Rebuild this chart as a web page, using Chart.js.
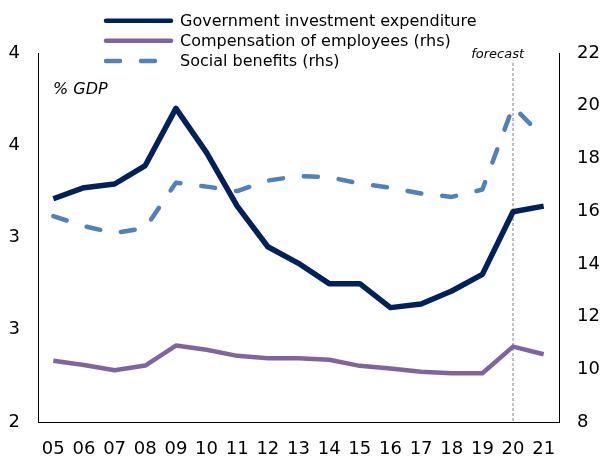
<!DOCTYPE html>
<html>
<head>
<meta charset="utf-8">
<script src="https://cdn.jsdelivr.net/npm/chart.js"></script>
<style>
  html, body { margin: 0; padding: 0; background: #fff; }
  #wrap { width: 600px; height: 457px; position: relative; }
</style>
</head>
<body>
<div id="wrap"><canvas id="myChart"></canvas></div>
<script>
// years on the x axis
const years = ['05', '06', '07', '08', '09', '10', '11', '12', '13', '14', '15', '16', '17', '18', '19', '20', '21'];
// % GDP, left axis
const govInvestment = [3.21, 3.27, 3.29, 3.39, 3.70, 3.46, 3.17, 2.95, 2.86, 2.75, 2.75, 2.62, 2.64, 2.71, 2.80, 3.14, 3.17];
// % GDP, right axis
const compensation = [10.32, 10.16, 9.96, 10.14, 10.90, 10.74, 10.51, 10.42, 10.42, 10.36, 10.13, 10.03, 9.91, 9.85, 9.85, 10.86, 10.57];
const socialBenefits = [15.81, 15.43, 15.17, 15.36, 17.08, 16.93, 16.76, 17.16, 17.33, 17.29, 17.05, 16.89, 16.67, 16.54, 16.82, 19.97, 18.79];
const forecastYear = '20';

const FONT = 'DejaVu Sans, Verdana, sans-serif';

// legend drawn as a stacked list above the plot
const stackedLegend = {
    id: 'stackedLegend',
    afterDraw(chart) {
        const ctx = chart.ctx;
        const rows = [20.7, 40.7, 61];
        ctx.save();
        chart.data.datasets.forEach((ds, i) => {
            const y = rows[i];
            ctx.beginPath();
            ctx.strokeStyle = ds.borderColor;
            ctx.lineWidth = 4.5;
            ctx.lineCap = 'round';
            ctx.setLineDash(ds.borderDash || []);
            ctx.moveTo(106, y);
            ctx.lineTo(171, y);
            ctx.stroke();
            ctx.setLineDash([]);
            ctx.fillStyle = '#000';
            ctx.font = '16px ' + FONT;
            ctx.textAlign = 'left';
            ctx.textBaseline = 'middle';
            ctx.fillText(ds.label, 180, y + 1);
        });
        ctx.restore();
    }
};

// forecast marker and unit note
const notes = {
    id: 'notes',
    beforeDatasetsDraw(chart) {
        const ctx = chart.ctx;
        const x = chart.scales.x.getPixelForValue(years.indexOf(forecastYear));
        const area = chart.chartArea;
        ctx.save();
        ctx.beginPath();
        ctx.strokeStyle = '#808080';
        ctx.lineWidth = 1;
        ctx.setLineDash([3, 2]);
        ctx.moveTo(x, 63);
        ctx.lineTo(x, area.bottom);
        ctx.stroke();
        ctx.restore();
    },
    afterDraw(chart) {
        const ctx = chart.ctx;
        const x = chart.scales.x.getPixelForValue(years.indexOf(forecastYear));
        ctx.save();
        ctx.fillStyle = '#000';
        ctx.textBaseline = 'middle';
        ctx.font = 'italic 13px ' + FONT;
        ctx.textAlign = 'right';
        ctx.fillText('forecast', x + 11, 55);
        ctx.font = 'italic 16px ' + FONT;
        ctx.textAlign = 'left';
        ctx.fillText('% GDP', 53, 90);
        ctx.restore();
    }
};

const ctx = document.getElementById('myChart').getContext('2d');
const chart = new Chart(ctx, {
    type: 'line',
    data: {
        labels: years,
        datasets: [{
            label: 'Government investment expenditure',
            data: govInvestment,
            yAxisID: 'y',
            borderColor: '#002060',
            borderWidth: 5.5,
        }, {
            label: 'Compensation of employees (rhs)',
            data: compensation,
            yAxisID: 'y1',
            borderColor: '#8064A2',
            borderWidth: 4.5,
        }, {
            label: 'Social benefits (rhs)',
            data: socialBenefits,
            yAxisID: 'y1',
            borderColor: '#4F81BD',
            borderWidth: 4.5,
            borderDash: [14, 21],
            borderCapStyle: 'round',
        }]
    },
    options: {
        responsive: true,
        maintainAspectRatio: false,
        animation: false,
        devicePixelRatio: 1,
        elements: {
            point: { radius: 0, hoverRadius: 0 },
            line: { tension: 0, borderJoinStyle: 'round' }
        },
        layout: { padding: { top: 53, left: 0, right: 0, bottom: 0 } },
        plugins: {
            legend: { display: false },
            tooltip: { enabled: false }
        },
        scales: {
            x: {
                offset: true,
                grid: { display: false, drawTicks: false, offset: true },
                border: { display: true, color: '#000', width: 1 },
                ticks: {
                    color: '#000',
                    padding: 17,
                    maxRotation: 0,
                    autoSkip: false,
                    font: { family: FONT, size: 18 }
                },
                afterFit: (s) => { s.height = 35; }
            },
            y: {
                position: 'left',
                min: 2,
                max: 4,
                grid: { display: false, drawTicks: false },
                border: { display: true, color: '#000', width: 1 },
                ticks: {
                    stepSize: 0.5,
                    color: '#000',
                    padding: 18,
                    font: { family: FONT, size: 18 },
                    callback: (v) => Math.round(v)
                },
                afterFit: (s) => { s.width = 38; }
            },
            y1: {
                position: 'right',
                min: 8,
                max: 22,
                grid: { display: false, drawTicks: false },
                border: { display: true, color: '#000', width: 1 },
                ticks: {
                    stepSize: 2,
                    color: '#000',
                    padding: 18,
                    font: { family: FONT, size: 18 }
                },
                afterFit: (s) => { s.width = 41; }
            }
        }
    },
    plugins: [notes, stackedLegend]
});
</script>
</body>
</html>
